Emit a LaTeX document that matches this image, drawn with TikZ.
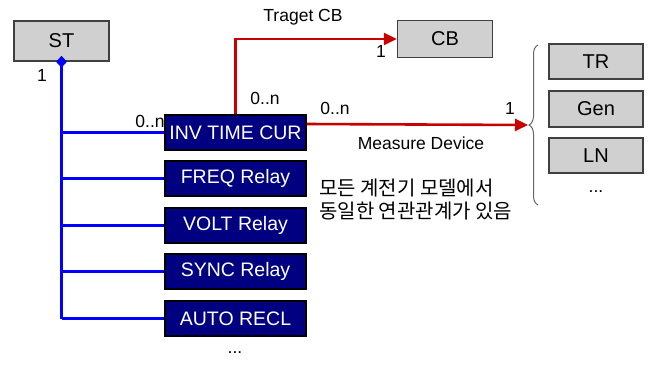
\documentclass[tikz,border=0pt]{standalone}
\usepackage{fontspec}
\setmainfont{Liberation Sans}
\newfontfamily\kr{Noto Sans CJK KR}
\usetikzlibrary{arrows.meta,decorations.pathreplacing,shapes.geometric}
\definecolor{navybox}{RGB}{0,0,128}
\definecolor{graybox}{RGB}{208,208,208}
\definecolor{darkred}{RGB}{200,0,0}
\definecolor{linkblue}{RGB}{0,0,255}
\begin{document}
\begin{tikzpicture}[x=1pt,y=-1pt,
  relay/.style={draw=black,fill=navybox,text=white,minimum width=141pt,minimum height=35pt,inner sep=0pt,font=\fontsize{19.5}{19.5}\selectfont,line width=1.5pt},
  entity/.style={draw=black!75,fill=graybox,minimum width=95pt,minimum height=37pt,inner sep=0pt,font=\fontsize{20}{20}\selectfont,line width=1.5pt},
  small/.style={font=\fontsize{17.5}{17.5}\selectfont,inner sep=0pt},
  bluelink/.style={draw=linkblue,line width=2.6pt},
  redlink/.style={draw=darkred,line width=2.6pt,-{Triangle[length=13pt,width=12pt]}}]
\useasboundingbox (0,0) rectangle (648,365);
% entities
\node[entity,minimum height=40pt] (st) at (61.5,41) {ST};
\node[entity] (cb) at (445,39) {CB};
\node[entity,minimum width=94pt,minimum height=35pt] (tr) at (596,61.5) {TR};
\node[entity,minimum width=94pt,minimum height=36pt] (gen) at (596,109) {Gen};
\node[entity,minimum width=94pt,minimum height=35pt] (ln) at (596,155.5) {LN};
\node[small] (rdots) at (596,192) {...};
% relays
\node[relay] (inv) at (235.5,132.5) {INV TIME CUR};
\node[relay] (freq) at (235.5,178.5) {FREQ Relay};
\node[relay] (volt) at (235.5,225.5) {VOLT Relay};
\node[relay] (sync) at (235.5,271.5) {SYNC Relay};
\node[relay] (auto) at (235.5,318.5) {AUTO RECL};
\node[small] (ldots) at (235,353) {...};
% blue composition lines
\draw[bluelink] (st.south) -- (st.south |- auto.west);
\foreach \b in {inv,freq,volt,sync,auto}{
  \draw[bluelink] (st.south |- \b.west) -- (\b.west);
}
\node[diamond,fill=linkblue,inner sep=0pt,minimum width=11pt,minimum height=12pt] (dia) at (st.south) {};
\node[small] (st1) at (42,75) {1};
\node[small] (invn) at (150,121) {0..n};
% red links
\draw[redlink] (inv.north) |- (cb.west);
\node[small] (tcb) at (303,17) {Traget CB};
\node[small] (cb1) at (381,51) {1};
\node[small] (inv0n) at (265,98) {0..n};
% brace
\draw[line width=1pt,black!60,decorate,decoration={brace,amplitude=9pt,aspect=0.5}] (538,205) -- (538,45);
\coordinate (btip) at (528,125);
\draw[redlink] ([yshift=8.5pt]inv.east) -- (btip);
\node[small] (m0n) at (335,108) {0..n};
\node[small] (m1) at (510,108) {1};
\node[small] (md) at (421,143) {Measure Device};
% note
\node[align=left,anchor=north west,inner sep=0pt,font=\kr\fontsize{20}{23}\selectfont] (note) at (319,179) {모든 계전기 모델에서\\동일한 연관관계가 있음};
\end{tikzpicture}
\end{document}
